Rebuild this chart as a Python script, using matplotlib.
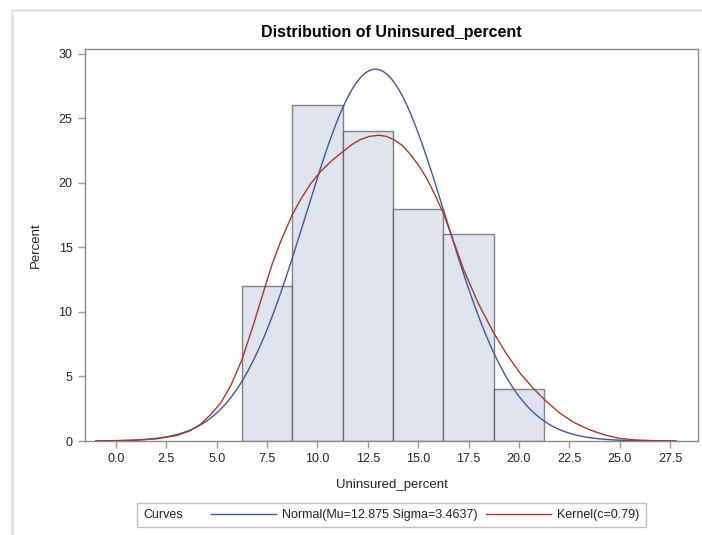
import numpy as np
import matplotlib
matplotlib.use("Agg")
import matplotlib.pyplot as plt
from matplotlib.lines import Line2D
from matplotlib.offsetbox import HPacker

# ---------------- data ----------------
bin_edges = [6.25, 8.75, 11.25, 13.75, 16.25, 18.75, 21.25]
bin_percent = [12, 26, 24, 18, 16, 4]

normal_mu = 12.875
normal_sigma = 3.4637

kernel_x = [-1.0, 0.0, 1.0, 2.0, 3.0, 3.6, 4.2, 4.7, 5.2, 5.7, 6.25, 6.8, 7.33, 7.75,
            8.16, 8.74, 9.2, 9.65, 10.14, 10.7, 11.25, 11.7, 12.13, 12.6, 13.04, 13.4,
            13.78, 14.2, 14.61, 15.0, 15.44, 15.85, 16.26, 16.75, 17.25, 18.0, 18.74,
            19.4, 20.06, 20.7, 21.27, 22.0, 22.71, 23.54, 24.3, 25.0, 25.8, 26.8, 27.8]
kernel_y = [0.0, 0.02, 0.06, 0.17, 0.42, 0.74, 1.3, 2.05, 2.95, 4.3, 6.3, 8.9, 11.6, 13.7,
            15.4, 17.5, 18.8, 19.9, 20.85, 21.7, 22.4, 22.95, 23.35, 23.6, 23.68, 23.6,
            23.35, 22.9, 22.2, 21.4, 20.3, 19.0, 17.6, 15.5, 13.3, 10.6, 8.4,
            6.7, 5.25, 4.1, 3.2, 2.2, 1.45, 0.85, 0.45, 0.2, 0.08, 0.02, 0.0]

x_ticks = [0.0, 2.5, 5.0, 7.5, 10.0, 12.5, 15.0, 17.5, 20.0, 22.5, 25.0, 27.5]
y_ticks = [0, 5, 10, 15, 20, 25, 30]

title = "Distribution of Uninsured_percent"
x_label = "Uninsured_percent"
y_label = "Percent"
normal_label = "Normal(Mu=12.875 Sigma=3.4637)"
kernel_label = "Kernel(c=0.79)"
legend_title = "Curves"

# ---------------- style ----------------
plt.rcParams['font.family'] = ['Liberation Sans', 'DejaVu Sans']
W, H = 702, 535
fig = plt.figure(figsize=(W / 100, H / 100), dpi=100)
fig.patch.set_facecolor('white')

L, R, T, B = 85, 698, 49, 441
ax = fig.add_axes([L / W, 1 - B / H, (R - L) / W, (B - T) / H])

text_col = '#222222'
axis_col = '#8a8a8a'
blue = '#445694'
red = '#A23A2E'

# histogram bars
widths = np.diff(bin_edges)
ax.bar(bin_edges[:-1], bin_percent, width=widths, align='edge',
       facecolor='#DFE4EF', edgecolor=(0.22, 0.22, 0.25, 0.6), linewidth=1.0, zorder=2)

# normal curve from the fitted parameters
xs = np.linspace(-1.0, 27.8, 400)
binw = bin_edges[1] - bin_edges[0]
ny = 100 * binw * np.exp(-0.5 * ((xs - normal_mu) / normal_sigma) ** 2) / (normal_sigma * np.sqrt(2 * np.pi))
l1, = ax.plot(xs, ny, color=blue, lw=1.0, zorder=3, label=normal_label)
l2, = ax.plot(kernel_x, kernel_y, color=red, lw=1.0, zorder=3, label=kernel_label)

ax.set_xlim(-1.54, 28.89)
ax.set_ylim(0, 30.36)
ax.set_xticks(x_ticks)
ax.set_xticklabels([f"{v:.1f}" for v in x_ticks])
ax.set_yticks(y_ticks)
ax.set_yticklabels([str(v) for v in y_ticks])
ax.tick_params(axis='both', direction='out', length=5, width=1, color='#9a9a9a',
               labelsize=9, labelcolor=text_col, pad=4)
for s in ax.spines.values():
    s.set_color(axis_col)
    s.set_linewidth(1.0)

ax.set_xlabel(x_label, fontsize=9.5, color=text_col, labelpad=10)
ax.set_ylabel(y_label, fontsize=9.5, color=text_col, labelpad=12)
fig.text((L + R) / 2 / W, 1 - 32 / H, title, ha='center', va='center',
         fontsize=11.5, fontweight='bold', color='black')

# legend with title on the left
leg = fig.legend(handles=[l1, l2], loc='center', bbox_to_anchor=((L + R) / 2 / W, 1 - 515 / H),
                 ncol=2, frameon=True, fontsize=9, title=legend_title, title_fontsize=9,
                 handlelength=5.2, handletextpad=0.5, columnspacing=0.7,
                 borderpad=0.35, fancybox=False, edgecolor='#b0b0b0')
leg.get_frame().set_linewidth(1.0)
leg.get_title().set_color(text_col)
for t in leg.get_texts():
    t.set_color(text_col)
fs = 9 * 100 / 72
newbox = HPacker(pad=leg.borderpad * fs, sep=1.6 * fs, align='center',
                 children=[leg._legend_title_box, leg._legend_handle_box])
newbox.set_figure(fig)
newbox.axes = leg.axes
newbox.set_offset(leg._findoffset)
leg._legend_box = newbox

# outer light frame of the original output
fig.add_artist(Line2D([12 / W, 1.0], [1 - 9.5 / H, 1 - 9.5 / H], transform=fig.transFigure,
                      color='#e2e2ea', lw=2))
fig.add_artist(Line2D([12 / W, 12 / W], [0, 1 - 9.5 / H], transform=fig.transFigure,
                      color='#e2e2ea', lw=2))

fig.savefig('out.png', dpi=100, facecolor='white')
